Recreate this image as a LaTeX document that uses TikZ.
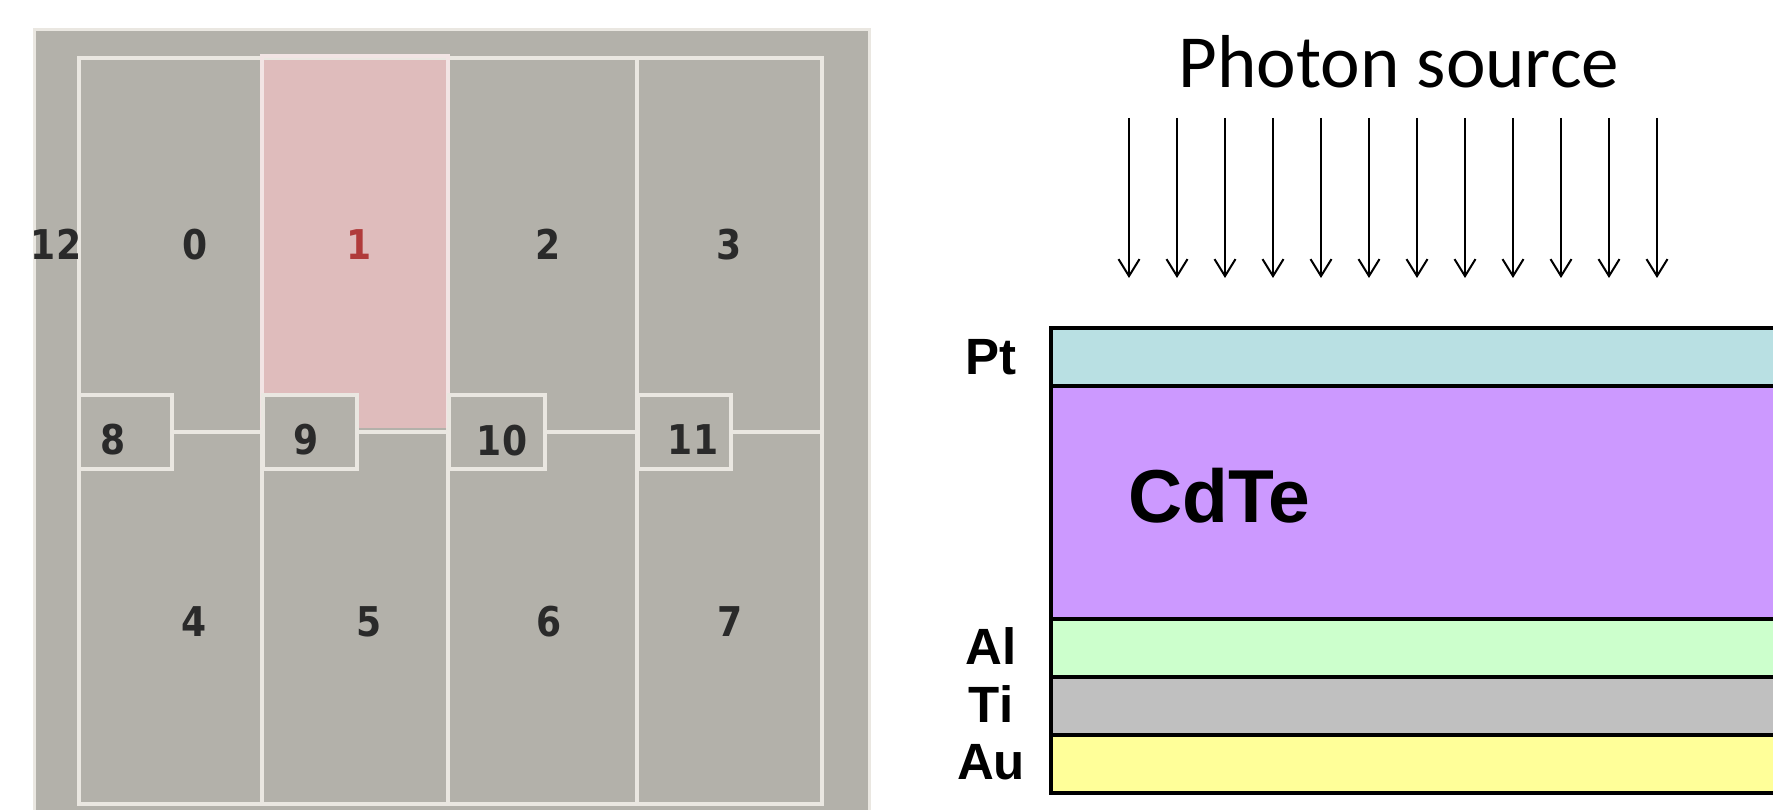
\documentclass[tikz,border=0pt]{standalone}
\usepackage{fontspec}
\setmainfont{DejaVu Sans}
\newfontfamily\padfont[FakeStretch=0.88]{DejaVu Sans Bold}
\newfontfamily\calibri{Carlito}
\newfontfamily\arial{Liberation Sans}
\usetikzlibrary{arrows.meta}

\definecolor{panelgrey}{HTML}{B3B1AA}
\definecolor{gridline}{HTML}{EAE7E1}
\definecolor{selpink}{HTML}{DFBCBC}
\definecolor{selline}{HTML}{F2E4E4}
\definecolor{selred}{HTML}{B03A3A}
\definecolor{digit}{HTML}{2A2A2A}
\definecolor{ptcol}{HTML}{B9E0E3}
\definecolor{cdtecol}{HTML}{CC99FF}
\definecolor{alcol}{HTML}{CCFFCC}
\definecolor{ticol}{HTML}{C0C0C0}
\definecolor{aucol}{HTML}{FFFF99}

\begin{document}
\begin{tikzpicture}[x=1pt,y=-1pt,
  gridrule/.style={draw=gridline, line width=4pt},
  padnum/.style={font=\padfont\fontsize{41}{50}\selectfont, text=digit, inner sep=0pt, anchor=base},
  smallpad/.style={fill=panelgrey, draw=gridline, line width=4pt},
  layerbox/.style={draw=black, line width=3.5pt},
  layerlabel/.style={font=\arial\bfseries\fontsize{51}{60}\selectfont, inner sep=0pt, anchor=center},
  photon/.style={line width=2pt, -{Straight Barb[length=17pt,width=21pt]}},
]
\useasboundingbox (0,0) rectangle (1773,810);

% ---------- pixel map of the detector pads ----------
\fill[panelgrey] (34,30) rectangle (869,815);
\draw[gridline, line width=3pt] (34,815) -- (34,30) -- (869,30) -- (869,815);

% selected pad
\fill[selpink] (262,56) rectangle (448,428);

% pad frame and column boundaries
\draw[gridrule] (79,58) rectangle (822,804);
\draw[gridrule] (262,58) -- (262,804);
\draw[gridrule] (448,58) -- (448,804);
\draw[gridrule] (637,58) -- (637,804);
\draw[gridrule] (79,432) -- (822,432);
\draw[draw=selline, line width=4pt] (262,428) -- (262,56) -- (448,56) -- (448,428);

% small guard pads on the middle line
\draw[smallpad] (79,395) rectangle (172,469);
\draw[smallpad] (263,395) rectangle (357,469);
\draw[smallpad] (449,395) rectangle (545,469);
\draw[smallpad] (638,395) rectangle (731,469);

% pad numbers
\node[padnum] (n12) at (56,260) {12};
\node[padnum] (n0) at (195,260) {0};
\node[padnum, text=selred] (n1) at (359,260) {1};
\node[padnum] (n2) at (548,260) {2};
\node[padnum] (n3) at (729,260) {3};
\node[padnum] (n8) at (113,454) {8};
\node[padnum] (n9) at (306,454) {9};
\node[padnum] (n10) at (502,455) {10};
\node[padnum] (n11) at (693,454) {11};
\node[padnum] (n4) at (194,636) {4};
\node[padnum] (n5) at (369,636) {5};
\node[padnum] (n6) at (549,636) {6};
\node[padnum] (n7) at (730,636) {7};

% ---------- detector layer stack ----------
\node[font=\calibri\fontsize{75}{90}\selectfont, inner sep=0pt, anchor=base] (src) at (1399,88) {Photon source};

\foreach \i in {0,...,11} {
  \coordinate (ray\i) at ({1129+48*\i},118);
  \coordinate (hit\i) at ({1129+48*\i},278);
  \draw[photon] (ray\i) -- (hit\i);
}

\draw[layerbox, fill=ptcol]   (1051,328) rectangle (1790,386);
\draw[layerbox, fill=cdtecol] (1051,386) rectangle (1790,619);
\draw[layerbox, fill=alcol]   (1051,619) rectangle (1790,677);
\draw[layerbox, fill=ticol]   (1051,677) rectangle (1790,735);
\draw[layerbox, fill=aucol]   (1051,735) rectangle (1790,793);

\node[font=\arial\bfseries\fontsize{75}{90}\selectfont, inner sep=0pt, anchor=base west] (cdte) at (1128,522) {CdTe};

\node[layerlabel] (pt) at (991,357) {Pt};
\node[layerlabel] (al) at (991,646) {Al};
\node[layerlabel] (ti) at (991,704) {Ti};
\node[layerlabel] (au) at (991,762) {Au};
\end{tikzpicture}
\end{document}
